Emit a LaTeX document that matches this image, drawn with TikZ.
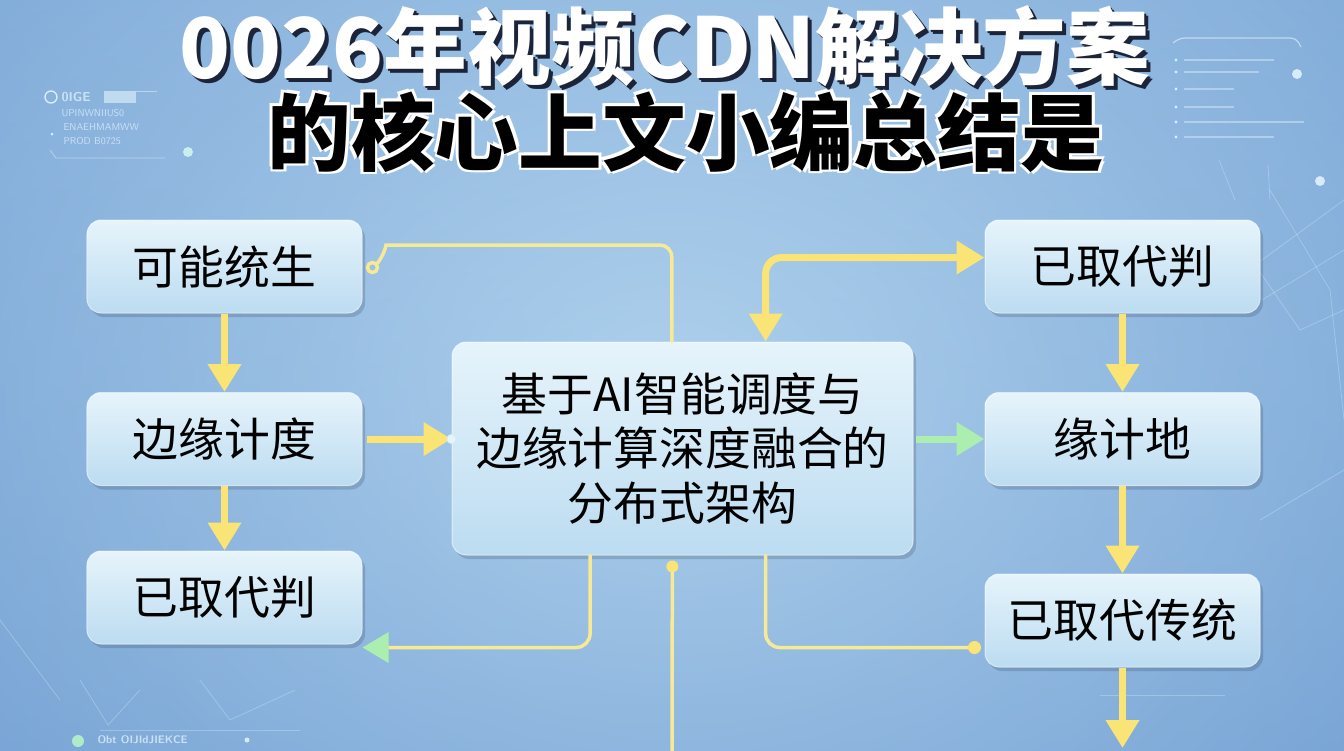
\documentclass[tikz,border=0pt]{standalone}
\usepackage{fontspec}
\newfontfamily\cjk{Noto Sans CJK SC}
\usetikzlibrary{arrows.meta,calc,shadows}
\definecolor{bgtop}{RGB}{158,196,230}
\definecolor{bgbot}{RGB}{118,162,212}
\definecolor{glow}{RGB}{188,220,242}
\definecolor{boxtop}{RGB}{230,244,251}
\definecolor{boxbot}{RGB}{188,220,241}
\definecolor{arry}{RGB}{250,228,118}
\definecolor{liney}{RGB}{246,234,150}
\definecolor{arrg}{RGB}{172,238,176}
\definecolor{deco}{RGB}{215,235,248}
\definecolor{tshadow}{RGB}{28,36,58}
\definecolor{cyandot}{RGB}{200,240,235}
\definecolor{greendot}{RGB}{175,235,200}
\tikzset{
  stepbox/.style={rounded corners=14bp, minimum width=275bp, minimum height=93bp,
    top color=boxtop, bottom color=boxbot, draw=white, draw opacity=0.55, line width=1bp,
    font=\cjk\fontsize{46}{55}\selectfont, text=black, inner sep=0pt,
    drop shadow={shadow xshift=3bp, shadow yshift=-4bp, fill=tshadow, opacity=0.18}},
  bigbox/.style={stepbox, minimum width=461bp, minimum height=213bp, align=center},
  thickarrow/.style={draw=arry, line width=7bp, -{Triangle[width=32bp,length=28bp]}},
  greenarrow/.style={draw=arrg, line width=7bp, -{Triangle[width=32bp,length=28bp]}},
  thinline/.style={draw=liney, line width=3.5bp, line cap=round},
  ydot/.style={circle, fill=arry, inner sep=0pt, minimum size=13bp},
  decotext/.style={text=deco, font=\sffamily\fontsize{10}{12}\selectfont, anchor=west, opacity=0.85},
  decoline/.style={draw=deco, line width=0.8bp, opacity=0.35},
  ttl/.style={font=\cjk\bfseries\fontsize{84}{90}\selectfont, inner sep=0pt}
}
\begin{document}
\begin{tikzpicture}[x=1bp,y=-1bp]
\useasboundingbox (0,0) rectangle (1344,750);
% background
\shade[top color=bgtop, bottom color=bgbot] (0,0) rectangle (1344,750);
\shade[inner color=glow, outer color=bgbot, opacity=0.7] (-200,-300) rectangle (1544,1100);
% faint network lines
\draw[decoline] (1344,200) -- (1255,265) -- (1300,330) -- (1344,310);
\draw[decoline] (1270,190) -- (1330,290) -- (1344,420);
\draw[decoline] (1262,300) -- (1344,250);
\draw[decoline] (1260,520) -- (1344,470);
\draw[decoline] (1219,160) -- (1235,200);
\draw[decoline] (1268,165) -- (1270,200);
\draw[decoline] (80,680) -- (108,725) -- (140,690);
\draw[decoline] (200,680) -- (230,720) -- (295,690);
\draw[decoline] (100,730) -- (300,730);
\draw[decoline] (1100,695) -- (1225,695);
\draw[decoline] (0,620) -- (60,700);
% top-left decoration
\draw[deco, line width=1.4bp] (51,97) circle (6);
\node[decotext, font=\sffamily\bfseries\fontsize{13}{14}\selectfont] (d1) at (58,97) {0IGE};
\fill[deco, opacity=0.7] (104,91) rectangle (136,103);
\draw[decoline, opacity=0.6] (136,91) -- (157,91);
\node[decotext] (d2) at (58,113) {UPINWNIIUS0};
\node[decotext] (d3) at (60,127) {ENAEHMAMWW};
\node[decotext] (d4) at (60,141) {PROD B0725};
\draw[decoline, opacity=0.6] (50,150) -- (56,158) -- (165,158);
\fill[deco] (52,134) circle (1.5);
\fill[cyandot] (188,152) circle (5);
% top-right decoration
\draw[deco, line width=1.2bp, opacity=0.7, rounded corners=5bp] (1173,43) -- (1180,38) -- (1296,38) -- (1301,47);
\foreach \yy/\ww in {60/90, 72/75, 89/50, 107/50, 122/120, 137/90} {
  \fill[deco] (1176,\yy) circle (1.6);
  \draw[decoline, opacity=0.5, line width=1.5bp] (1184,\yy) -- ++(\ww,0);
}
\fill[deco] (1297,74) circle (5);
\fill[deco] (1320,181) circle (5);
% bottom-left decoration
\fill[greendot] (78,741) circle (6);
\node[decotext, font=\sffamily\bfseries\fontsize{11}{12}\selectfont] (d5) at (94,740) {Obt OIJIdJIEKCE};
\fill[deco] (247,740) circle (2.5);

% title
\foreach \dx/\dy [count=\i] in {4/4, 2/2} {
  \node[ttl, text=tshadow] (t1s\i) at (665+\dx,46+\dy) {0026年视频CDN解决方案};
}
\node[ttl, text=white] (t1) at (665,46) {0026年视频CDN解决方案};
\foreach \dx/\dy [count=\i] in {-3/-3, 2.5/2.5, -2.5/2.5, 2.5/-2.5} {
  \node[ttl, text=white] (t2s\i) at (686+\dx,132+\dy) {的核心上文小编总结是};
}
\node[ttl, text=black] (t2) at (686,132) {的核心上文小编总结是};

% boxes
\node[stepbox] (L1) at (224.5,266.5) {可能统生};
\node[stepbox] (L2) at (224.5,439) {边缘计度};
\node[stepbox] (L3) at (224.5,597.5) {已取代判};
\node[bigbox] (C) at (682.5,448.5) {基于AI智能调度与\\边缘计算深度融合的\\分布式架构};
\node[stepbox] (R1) at (1122.5,266.5) {已取代判};
\node[stepbox] (R2) at (1122.5,439) {缘计地};
\node[stepbox] (R3) at (1122.5,620.5) {已取代传统};

% coordinates on the central box
\coordinate (ctopA) at ($(C.north west)!0.477!(C.north east)$);
\coordinate (ctopB) at ($(C.north west)!0.68!(C.north east)$);
\coordinate (cbotA) at ($(C.south west)!0.3!(C.south east)$);
\coordinate (cbotM) at ($(C.south west)!0.478!(C.south east)$);
\coordinate (cbotB) at ($(C.south west)!0.68!(C.south east)$);
\coordinate (curl) at ([xshift=10bp,yshift=-1bp]L1.east);
\coordinate (bend) at (672,752);
\coordinate (r3end) at (1122.5,748);
\coordinate (cin) at (C.west |- L2.east);

% vertical flow arrows
\draw[thickarrow] (L1.south) -- (L2.north);
\draw[thickarrow] (L2.south) -- (L3.north);
\draw[thickarrow] (R1.south) -- (R2.north);
\draw[thickarrow] (R2.south) -- (R3.north);
\draw[thickarrow] (R3.south) -- (r3end);

% horizontal arrows
\draw[thickarrow] ([xshift=4bp]L2.east) -- (cin);
\node[circle, draw=deco, fill=boxtop, line width=1bp, inner sep=0pt, minimum size=9bp] (cdot) at (cin) {};
\draw[greenarrow] ([xshift=2bp]C.east |- R2.west) -- (R2.west);

% top-left thin connector with curl
\draw[thinline] (curl) circle (5);
\draw[thinline, rounded corners=12bp] ([xshift=4bp,yshift=3bp]curl) .. controls +(8,-10) and +(-12,0) .. (398,245) -| (ctopA);

% top-right double arrow
\draw[draw=arry, line width=7bp, rounded corners=16bp,
  {Triangle[width=32bp,length=28bp]}-{Triangle[width=32bp,length=28bp]}]
  (ctopB) |- ([yshift=9bp]R1.west);

% bottom connectors
\draw[thinline, rounded corners=14bp, -{Triangle[width=30bp,length=26bp,fill=arrg,color=arrg]}] (cbotA) |- ([yshift=-50bp]L3.east);
\draw[thinline, rounded corners=14bp] (cbotB) |- ([xshift=-10bp,yshift=-27bp]R3.west) node[ydot] (rdot) {};
\node[ydot, minimum size=12bp] (mdot) at ([yshift=-11bp]cbotM) {};
\draw[thinline] (mdot) -- (bend);
\end{tikzpicture}
\end{document}
